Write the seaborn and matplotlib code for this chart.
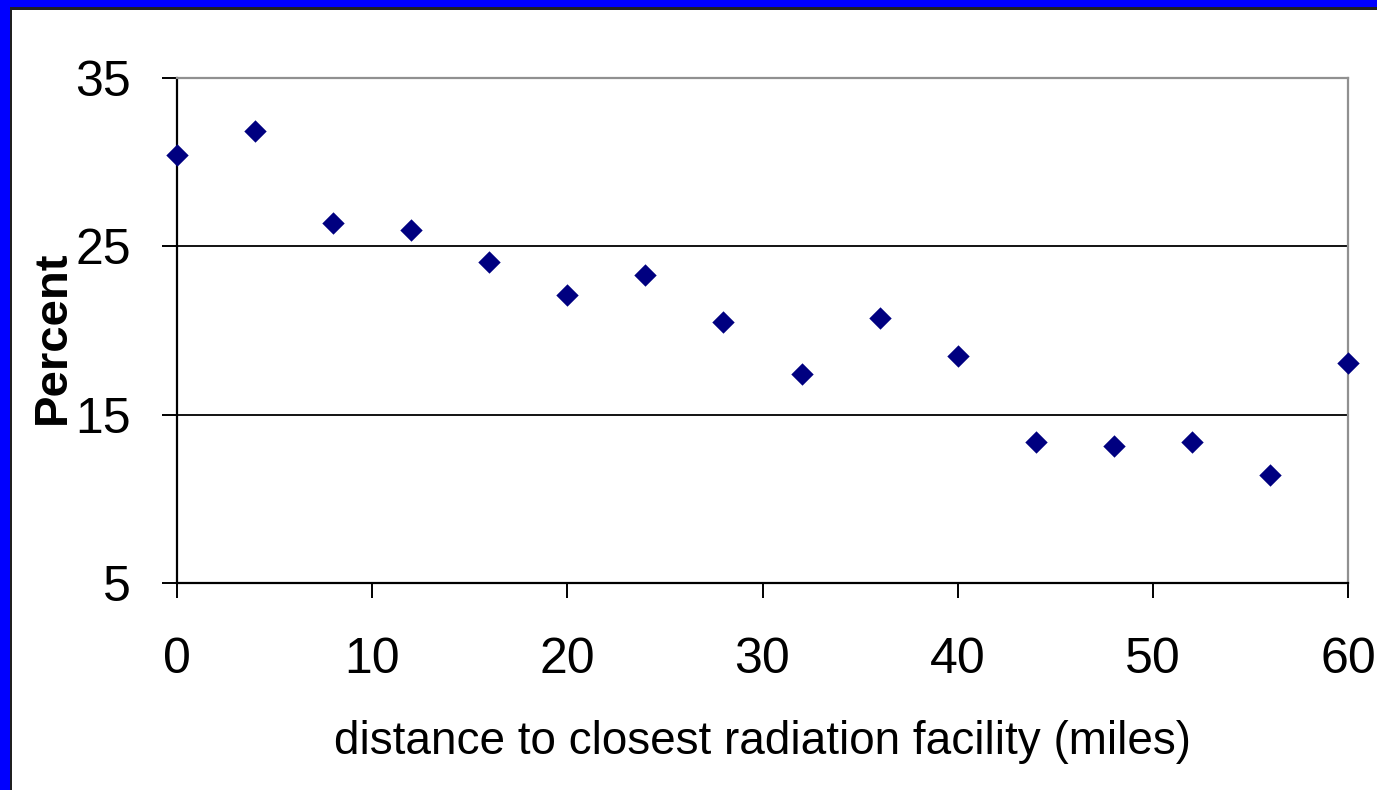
import matplotlib
matplotlib.use("Agg")
import matplotlib.pyplot as plt
import seaborn as sns
import pandas as pd
from matplotlib.patches import Rectangle

distance = [0, 4, 8, 12, 16, 20, 24, 28, 32, 36, 40, 44, 48, 52, 56, 60]
percent = [30.4, 31.85, 26.4, 25.97, 24.07, 22.1, 23.3, 20.5, 17.4, 20.74,
           18.48, 13.37, 13.13, 13.37, 11.41, 18.07]
x_ticks = [0, 10, 20, 30, 40, 50, 60]
y_ticks = [5, 15, 25, 35]

sns.set_theme(style="white")
plt.rcParams['font.family'] = ['Liberation Sans', 'DejaVu Sans']

df = pd.DataFrame({"distance": distance, "percent": percent})

W, H = 1377, 790
fig = plt.figure(figsize=(W / 100, H / 100), dpi=100)
fig.patch.set_facecolor("white")
ax = fig.add_axes([177 / W, 1 - 583 / H, (1348 - 177) / W, (583 - 78) / H])

sns.scatterplot(data=df, x="distance", y="percent", marker="D", s=130,
                color="#000080", edgecolor="#000080", linewidth=0, ax=ax,
                clip_on=False, zorder=5)

ax.set_xlim(0, 60)
ax.set_ylim(5, 35)
ax.set_xticks(x_ticks)
ax.set_yticks(y_ticks)
ax.set_xticklabels([str(v) for v in x_ticks])
ax.set_yticklabels([str(v) for v in y_ticks])

for yv in [15, 25]:
    ax.axhline(yv, color="black", linewidth=1.3, zorder=1)

for side in ["left", "bottom"]:
    ax.spines[side].set_color("black")
    ax.spines[side].set_linewidth(1.6)
for side in ["top", "right"]:
    ax.spines[side].set_color("#909090")
    ax.spines[side].set_linewidth(1.6)
    ax.spines[side].set_visible(True)

ax.tick_params(axis="both", direction="out", length=11, width=1.4,
               color="black", labelsize=36, labelcolor="black")
ax.tick_params(axis="x", pad=28, bottom=True)
ax.tick_params(axis="y", pad=22, left=True)

ax.set_xlabel("distance to closest radiation facility (miles)", fontsize=33,
              color="black")
ax.set_ylabel("Percent", fontsize=34, fontweight="bold", color="black")
ax.xaxis.set_label_coords(0.5, -(742 - 583) / 505)
ax.yaxis.set_label_coords(-(177 - 53) / 1171, (583 - 337) / 505)
ax.xaxis.label.set_va("center")
ax.yaxis.label.set_va("center")

# blue frame (top and left)
fig.add_artist(Rectangle((0, 0), 10 / W, 1, transform=fig.transFigure,
                         facecolor="#0000ff", edgecolor="none", zorder=10))
fig.add_artist(Rectangle((0, 1 - 7.5 / H), 1, 7.5 / H, transform=fig.transFigure,
                         facecolor="#0000ff", edgecolor="none", zorder=10))
fig.add_artist(Rectangle((10 / W, 0), 2 / W, 1 - 7.5 / H, transform=fig.transFigure,
                         facecolor="#202020", edgecolor="none", zorder=10))
fig.add_artist(Rectangle((10 / W, 1 - 10 / H), 1, 2.5 / H, transform=fig.transFigure,
                         facecolor="#202020", edgecolor="none", zorder=10))

fig.savefig("out.png", dpi=100, facecolor="white")
